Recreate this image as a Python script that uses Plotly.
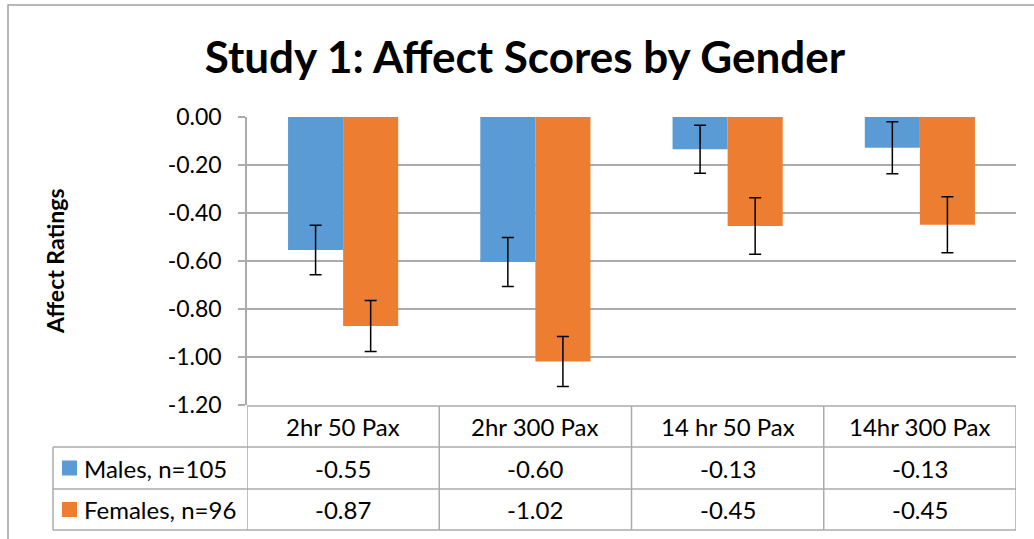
import plotly.graph_objects as go

categories = ["2hr 50 Pax", "2hr 300 Pax", "14 hr 50 Pax", "14hr 300 Pax"]
series_names = ["Males, n=105", "Females, n=96"]
males = [-0.554, -0.604, -0.134, -0.128]
females = [-0.871, -1.019, -0.454, -0.449]
males_err = [0.103, 0.102, 0.100, 0.108]
females_err = [0.106, 0.104, 0.118, 0.117]
y_ticks = [0.0, -0.2, -0.4, -0.6, -0.8, -1.0, -1.2]

colors = ["#5B9BD5", "#ED7D31"]
FONT = "Lato"
W, H = 1034, 539
ML, MR, MT, MB = 247, 18, 117, 134
PW, PH = W - ML - MR, H - MT - MB
GRID = "#ABABAB"


def px(x):
    return (x - ML) / PW


def py(y):
    return (H - MB - y) / PH


def fmt(v):
    return f"{v:.2f}".replace("\u2212", "-")


fig = go.Figure()
for name, vals, errs, col in zip(series_names, [males, females], [males_err, females_err], colors):
    fig.add_trace(go.Bar(
        x=categories, y=vals, name=name, marker=dict(color=col, line=dict(width=0)),
        error_y=dict(type="data", array=errs, visible=True, color="black", thickness=1.5, width=6),
        showlegend=False,
    ))

shapes = []
line = dict(color=GRID, width=1.5)
# outer chart border
shapes.append(dict(type="rect", xref="paper", yref="paper", x0=px(8), x1=px(1045), y0=py(550), y1=py(5),
                   line=dict(color="#A0A0A0", width=1.5), layer="below"))
# table horizontal lines
row_y = [406, 447, 489, 530]
for i, yy in enumerate(row_y):
    x0 = px(247) if i == 0 else px(53)
    shapes.append(dict(type="line", xref="paper", yref="paper", x0=x0, x1=px(1016), y0=py(yy), y1=py(yy), line=line))
# vertical lines
shapes.append(dict(type="line", xref="paper", yref="paper", x0=px(53), x1=px(53), y0=py(447), y1=py(530), line=line))
for k in range(len(categories) + 1):
    shapes.append(dict(type="line", xref="x", yref="paper", x0=k - 0.5, x1=k - 0.5, y0=py(406), y1=py(530), line=line))
# legend keys
row_centers = [468, 509.5]
for col, yc in zip(colors, row_centers):
    shapes.append(dict(type="rect", xref="paper", yref="paper", x0=px(62), x1=px(77), y0=py(yc + 7.5), y1=py(yc - 7.5),
                       fillcolor=col, line=dict(width=0)))

ann = []
tfont = dict(family=FONT, size=24, color="black")
for i, c in enumerate(categories):
    ann.append(dict(x=c, xref="x", y=py(426.5), yref="paper", text=c, showarrow=False, font=tfont,
                    xanchor="center", yanchor="middle"))
    for vals, yc in zip([males, females], row_centers):
        ann.append(dict(x=c, xref="x", y=py(yc), yref="paper", text=fmt(vals[i]), showarrow=False,
                        font=tfont, xanchor="center", yanchor="middle"))
for name, yc in zip(series_names, row_centers):
    ann.append(dict(x=px(82), xref="paper", y=py(yc), yref="paper", text=name, showarrow=False, font=tfont,
                    xanchor="left", yanchor="middle"))
ann.append(dict(x=px(55), xref="paper", y=py(261), yref="paper", text="<b>Affect Ratings</b>", textangle=-90,
                showarrow=False, font=dict(family=FONT, size=23, color="black"), xanchor="center", yanchor="middle"))

fig.update_layout(
    width=W, height=H,
    margin=dict(l=ML, r=MR, t=MT, b=MB),
    paper_bgcolor="white", plot_bgcolor="white",
    title=dict(text="<b>Study 1: Affect Scores by Gender</b>", x=525 / W, xanchor="center", y=1 - 58 / H,
               yanchor="middle", font=dict(family=FONT, size=44, color="black")),
    barmode="group", bargap=0.427, bargroupgap=0,
    xaxis=dict(type="category", range=[-0.5, 3.5], showticklabels=False, showgrid=False, zeroline=False,
               showline=False, ticks=""),
    yaxis=dict(range=[-1.2, 0], tickvals=y_ticks, ticktext=[fmt(v) for v in y_ticks], showgrid=True,
               gridcolor=GRID, gridwidth=1.5,
               zeroline=False, showline=True, linecolor=GRID, linewidth=1.5, ticks="outside", ticklen=7,
               tickcolor=GRID, tickwidth=1.5, tickfont=dict(family=FONT, size=23, color="black"),
               ticklabelstandoff=12),
    shapes=shapes, annotations=ann,
)
fig.write_html("out.html", config={"displayModeBar": False},
               post_script="document.body.style.margin='0';document.body.style.overflow='hidden';")
